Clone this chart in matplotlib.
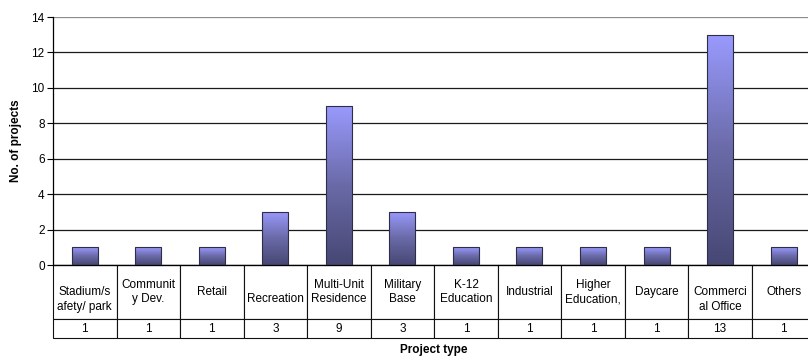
import numpy as np
import matplotlib
matplotlib.use("Agg")
import matplotlib.pyplot as plt
from matplotlib.colors import LinearSegmentedColormap

plt.rcParams['font.family'] = ['Liberation Sans', 'DejaVu Sans']

# project counts per type (labels wrapped the way the cells wrap them)
categories = ["\nStadium/s\nafety/ park", "Communit\ny Dev.", "Retail", "\nRecreation",
              "Multi-Unit\nResidence", "Military\nBase", "K-12\nEducation", "Industrial",
              "Higher\nEducation,", "Daycare", "\nCommerci\nal Office", "Others"]
counts = [1, 1, 1, 3, 9, 3, 1, 1, 1, 1, 13, 1]
y_ticks = [0, 2, 4, 6, 8, 10, 12, 14]

fig = plt.figure(figsize=(8.08, 3.56), dpi=100)
ax = fig.add_axes([0.0656, 0.2556, 0.9435, 0.6966])

x = np.arange(len(categories))
bars = ax.bar(x, counts, width=0.41, facecolor='none', edgecolor='#2e2e48', linewidth=0.8, zorder=3)

# vertical gradient inside each bar: light blue at the top, dark slate at the base
grad_cmap = LinearSegmentedColormap.from_list("barfade", ["#474774", "#6a6aa8", "#9a9aff"])
grad = np.linspace(0, 1, 256).reshape(-1, 1)
for bar in bars:
    x0, w, h = bar.get_x(), bar.get_width(), bar.get_height()
    img = ax.imshow(grad, cmap=grad_cmap, origin='lower', aspect='auto',
                    extent=[x0, x0 + w, 0, h], zorder=2)
    img.set_clip_path(bar)

ax.set_xlim(-0.5, len(categories) - 0.5)
ax.set_ylim(0, 14)
ax.set_yticks(y_ticks)
ax.tick_params(axis='y', direction='out', length=4, width=0.8, labelsize=8.5, pad=2)
ax.set_xticks([])
ax.grid(axis='y', color='#1a1a1a', linewidth=0.9, zorder=1)
ax.get_ygridlines()[-1].set_color('#8c8c8c')
ax.set_axisbelow(True)
for side in ('top', 'right'):
    ax.spines[side].set_visible(False)
ax.spines['left'].set_linewidth(0.9)
ax.spines['bottom'].set_linewidth(0.9)

ax.set_ylabel("No. of projects", fontsize=8.5, fontweight='bold')
ax.yaxis.set_label_coords(-0.041, 0.5)

# data table under the axis
tbl = ax.table(cellText=[[str(c) for c in counts]], colLabels=categories,
               cellLoc='center', bbox=[0, -0.2944, 1, 0.2944])
tbl.auto_set_font_size(False)
tbl.set_fontsize(8.5)
for (r, c), cell in tbl.get_celld().items():
    cell.set_edgecolor('#111111')
    cell.set_linewidth(0.8)
    cell.set_height(0.2177 if r == 0 else 0.0766)
    cell.get_text().set_linespacing(1.3)

ax.text(0.5, -0.343, "Project type", transform=ax.transAxes, ha='center', va='center',
        fontsize=8.5, fontweight='bold')

fig.savefig("out.png", dpi=100)
